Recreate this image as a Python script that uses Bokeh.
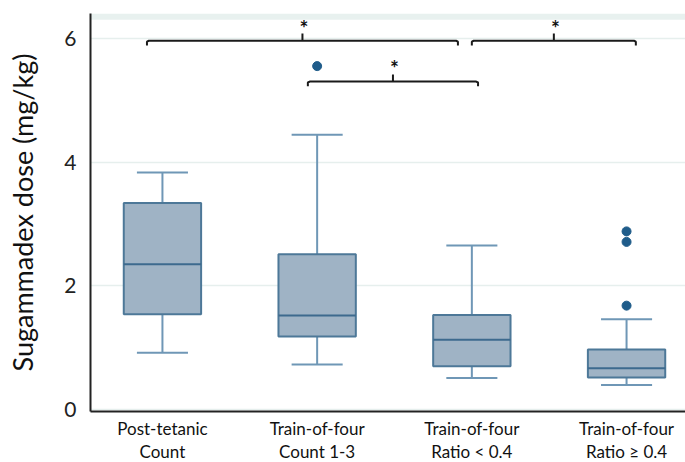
from bokeh.plotting import figure
from bokeh.models import BoxAnnotation, Range1d, FixedTicker, ColumnDataSource
from bokeh.core.properties import value
from bokeh.embed import file_html
from bokeh.resources import INLINE

# ---- data ----
groups = ["Post-tetanic\nCount", "Train-of-four\nCount 1-3",
          "Train-of-four\nRatio < 0.4", "Train-of-four\nRatio \u2265 0.4"]
whisker_low = [0.92, 0.73, 0.51, 0.40]
q1 = [1.54, 1.18, 0.70, 0.52]
median = [2.35, 1.52, 1.13, 0.67]
q3 = [3.34, 2.51, 1.53, 0.97]
whisker_high = [3.83, 4.44, 2.65, 1.46]
outlier_group = [2, 4, 4, 4]
outlier_value = [5.55, 2.88, 2.71, 1.68]
# significance brackets (x from, x to, height)
bracket_x0 = [0.90, 3.00, 1.94]
bracket_x1 = [2.91, 4.06, 3.04]
bracket_y = [5.96, 5.96, 5.30]
bracket_label = ["*", "*", "*"]
y_ticks = [0, 2, 4, 6]

FONT = "Lato"
BOX_FILL = "#9fb3c5"
BOX_LINE = "#4d7898"
WHISK = "#6f97b6"
OUTL = "#1f5c8a"

xs = [i + 1 for i in range(len(groups))]
box_w = 0.50
cap_h = 0.165

p = figure(frame_width=595, frame_height=398, output_backend="svg",
           toolbar_location=None, x_range=Range1d(0.535, 4.381),
           y_range=Range1d(-0.03, 6.40), min_border_top=13, min_border_left=90,
           min_border_right=0, min_border_bottom=0)
p.outline_line_color = None
p.background_fill_color = "white"

p.add_layout(BoxAnnotation(bottom=6.30, fill_color="#e8f1ef", fill_alpha=1.0,
                           line_color=None, level="underlay"))

src = ColumnDataSource(dict(x=xs, lo=whisker_low, q1=q1, med=median, q3=q3, hi=whisker_high,
                            capl=[x - cap_h for x in xs], capr=[x + cap_h for x in xs],
                            bl=[x - box_w / 2 for x in xs], br=[x + box_w / 2 for x in xs]))
# whiskers
p.segment("x", "q3", "x", "hi", source=src, line_color=WHISK, line_width=2)
p.segment("x", "lo", "x", "q1", source=src, line_color=WHISK, line_width=2)
p.segment("capl", "hi", "capr", "hi", source=src, line_color=WHISK, line_width=2)
p.segment("capl", "lo", "capr", "lo", source=src, line_color=WHISK, line_width=2)
# boxes
p.vbar(x="x", width=box_w, bottom="q1", top="q3", source=src,
       fill_color=BOX_FILL, line_color=BOX_LINE, line_width=2)
p.segment("bl", "med", "br", "med", source=src, line_color="#3d6a8e", line_width=2)
# outliers
p.scatter(outlier_group, outlier_value, size=9, fill_color=OUTL, line_color=OUTL)

# brackets
bx, by = [], []
tx, ty = [], []
for x0, x1, y in zip(bracket_x0, bracket_x1, bracket_y):
    m = (x0 + x1) / 2
    d = 0.075
    r = 0.012
    bx.append([x0, x0, x0 + r, m, m, m, x1 - r, x1, x1])
    by.append([y - d, y - 0.015, y, y, y + 0.115, y, y, y - 0.015, y - d])
    tx.append(m + 0.01)
    ty.append(y + 0.22)
p.multi_line(bx, by, line_color="#1a1a1a", line_width=2)
p.text(tx, ty, text=bracket_label, text_font=value(FONT), text_font_size="21px",
       text_align="center", text_baseline="middle", text_color="#111111",
       text_font_style="bold")

# axes
p.xgrid.grid_line_color = None
p.ygrid.grid_line_color = "#e6efed"
p.ygrid.grid_line_width = 1.5
p.ygrid.ticker = FixedTicker(ticks=y_ticks)

p.yaxis.ticker = FixedTicker(ticks=y_ticks)
p.yaxis.axis_label = "Sugammadex dose (mg/kg)"
p.yaxis.axis_label_text_font = FONT
p.yaxis.axis_label_text_font_size = "27px"
p.yaxis.axis_label_text_font_style = "normal"
p.yaxis.axis_label_text_color = "#111111"
p.yaxis.axis_label_standoff = 22
p.yaxis.major_label_text_font = FONT
p.yaxis.major_label_text_font_size = "21px"
p.yaxis.major_label_text_color = "#222222"
p.yaxis.major_label_standoff = 8

p.xaxis.ticker = FixedTicker(ticks=xs)
p.xaxis.major_label_overrides = {x: g for x, g in zip(xs, groups)}
p.xaxis.major_label_text_font = FONT
p.xaxis.major_label_text_font_size = "17px"
p.xaxis.major_label_text_line_height = 1.1
p.xaxis.major_label_text_color = "#111111"
p.xaxis.major_label_standoff = 0

for ax in (p.xaxis[0], p.yaxis[0]):
    ax.axis_line_color = "#222222"
    ax.axis_line_width = 2
    ax.major_tick_line_color = None
    ax.minor_tick_line_color = None

open("out.html", "w").write(file_html(p, INLINE))
